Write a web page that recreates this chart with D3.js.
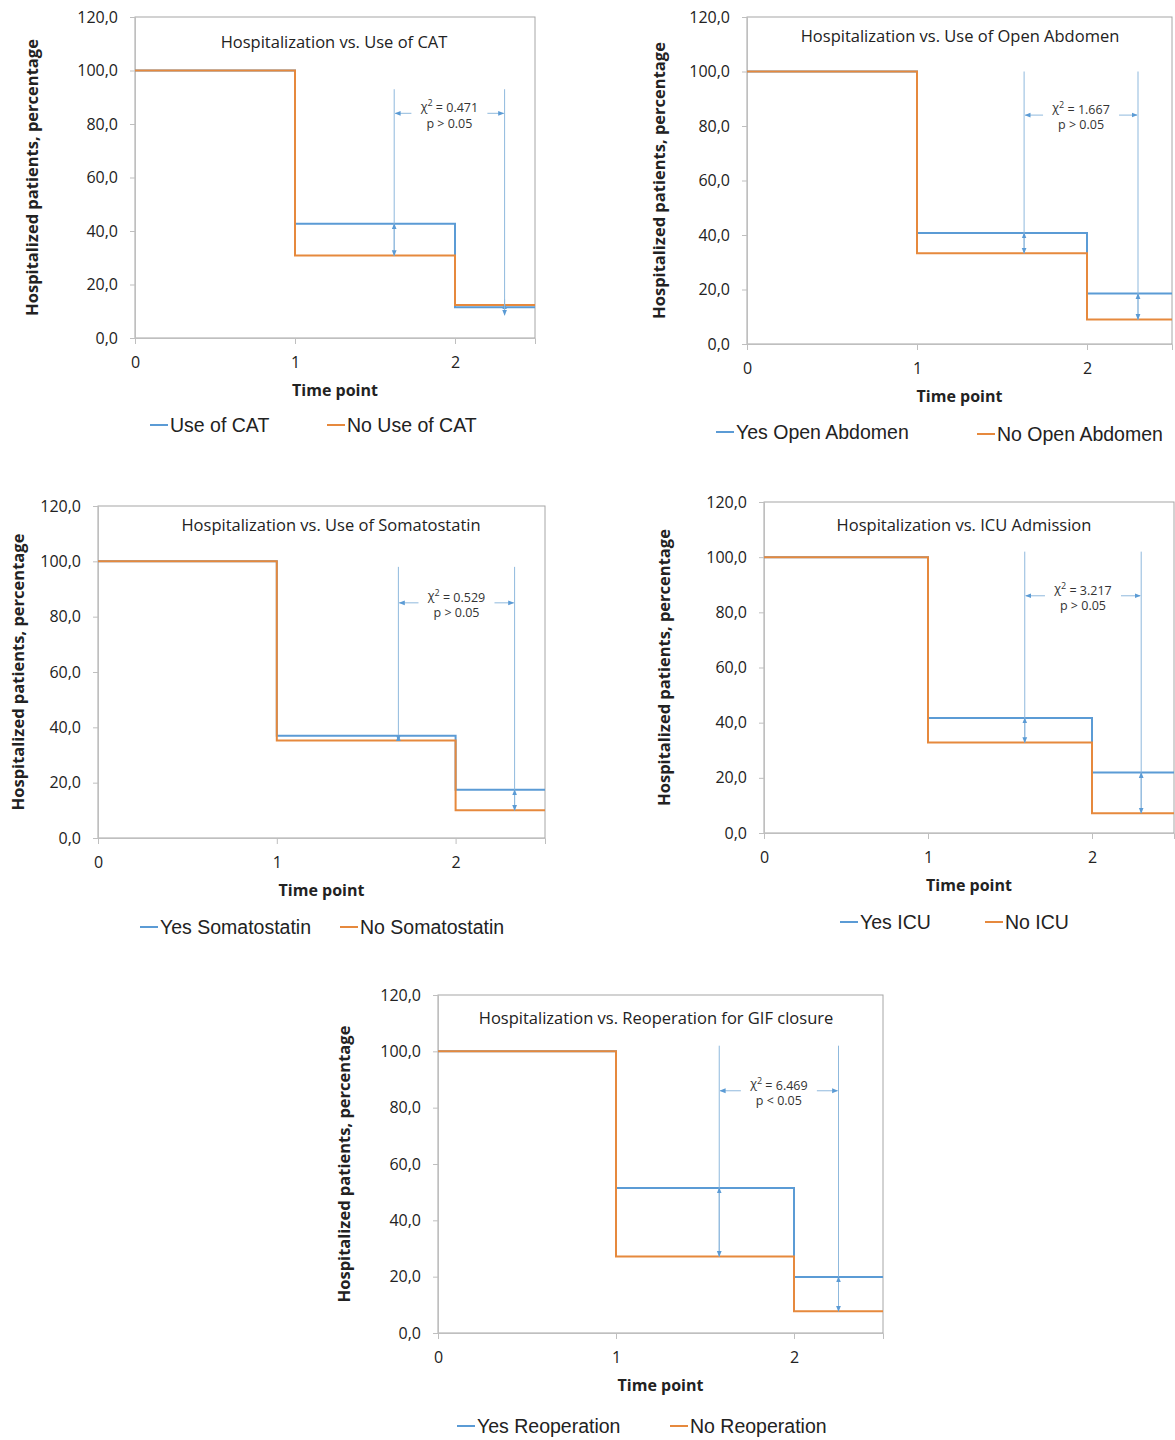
<!DOCTYPE html>
<html><head><meta charset="utf-8">
<script src="https://cdn.jsdelivr.net/npm/d3@7"></script>
<style>body{margin:0;background:#fff}</style></head>
<body><svg id="c" width="1175" height="1440"></svg>
<script>
const timePoints = [0, 1, 2, 2.5];
const yTicks = [0, 20, 40, 60, 80, 100, 120];
const xTicks = [0, 1, 2];
const titles = ["Hospitalization vs. Use of CAT","Hospitalization vs. Use of Open Abdomen","Hospitalization vs. Use of Somatostatin","Hospitalization vs. ICU Admission","Hospitalization vs. Reoperation for GIF closure"];
const yesNames = ["Use of CAT","Yes Open Abdomen","Yes Somatostatin","Yes ICU","Yes Reoperation"];
const noNames = ["No Use of CAT","No Open Abdomen","No Somatostatin","No ICU","No Reoperation"];
const yesValues = [[100,42.7,11.5],[100,40.7,18.5],[100,37.0,17.4],[100,41.7,21.9],[100,51.5,19.9]];
const noValues = [[100,30.8,12.3],[100,33.3,9.0],[100,35.2,10.0],[100,32.8,7.2],[100,27.2,7.7]];
const chiValues = ["0.471","1.667","0.529","3.217","6.469"];
const pTexts = ["p > 0.05","p > 0.05","p > 0.05","p > 0.05","p < 0.05"];
const markerX = [[1.62,2.31],[1.63,2.30],[1.68,2.33],[1.59,2.30],[1.58,2.25]];
const markerTop = [93,100,98,102,102];
const labelY = [84,84,85,86,86];

const boxes = [
 {l:135,r:535,t:17,b:338,tx:334,ty:42,ylab:32,leg:[[150,425],[327,425]]},
 {l:747,r:1172,t:17,b:344,tx:960,ty:36,ylab:659,leg:[[716,432],[977,434]]},
 {l:98,r:545,t:506,b:838,tx:331,ty:525,ylab:18,leg:[[140,927],[340,927]]},
 {l:764,r:1174,t:502,b:833,tx:964,ty:525,ylab:664,leg:[[840,922],[985,922]]},
 {l:438,r:883,t:995,b:1333,tx:656,ty:1018,ylab:344,leg:[[457,1426],[670,1426]]}
];
const BLUE="#5b9bd5", ORANGE="#e6893d", ANN="#8fb9dd";
const svg=d3.select("#c");
const defs=svg.append("defs");
defs.append("marker").attr("id","ah").attr("viewBox","0 0 10 10").attr("refX",9).attr("refY",5)
 .attr("markerWidth",6).attr("markerHeight",6).attr("orient","auto-start-reverse")
 .append("path").attr("d","M0,1L10,5L0,9z").attr("fill","#5b9bd5");
const F="'Open Sans', Lato, sans-serif";
boxes.forEach((b,i)=>{
  const x=d3.scaleLinear().domain([0,2.5]).range([b.l,b.r]);
  const y=d3.scaleLinear().domain([0,120]).range([b.b,b.t]);
  const g=svg.append("g");
  g.append("rect").attr("x",b.l).attr("y",b.t).attr("width",b.r-b.l).attr("height",b.b-b.t)
    .attr("fill","none").attr("stroke","#a6a6a6").attr("stroke-width",1);
  const ya=g.append("g").attr("transform",`translate(${b.l},0)`)
    .call(d3.axisLeft(y).tickValues(yTicks).tickSize(5).tickFormat(d=>d3.format(".1f")(d).replace(".",",")));
  ya.select(".domain").attr("stroke","#bfbfbf");
  ya.selectAll("line").attr("stroke","#bfbfbf");
  ya.selectAll("text").attr("font-family",F).attr("font-size",16).attr("fill","#222").attr("x",-17);
  const xa=g.append("g").attr("transform",`translate(0,${b.b})`)
    .call(d3.axisBottom(x).tickValues(xTicks).tickSize(6).tickFormat(d3.format("d")));
  xa.select(".domain").attr("stroke","#bfbfbf");
  xa.selectAll("line").attr("stroke","#bfbfbf");
  xa.selectAll("text").attr("font-family",F).attr("font-size",16).attr("fill","#222").attr("dy","1.3em");
  g.append("text").attr("x",(b.l+b.r)/2).attr("y",b.b+58).attr("text-anchor","middle")
    .attr("font-family",F).attr("font-weight","bold").attr("font-size",16).attr("fill","#222").text("Time point");
  g.append("text").attr("transform",`translate(${b.ylab},${(b.t+b.b)/2}) rotate(-90)`).attr("text-anchor","middle")
    .attr("dy","0.35em").attr("font-family",F).attr("font-weight","bold").attr("font-size",16.5).attr("fill","#222")
    .text("Hospitalized patients, percentage");
  g.append("text").attr("x",b.tx).attr("y",b.ty).attr("text-anchor","middle").attr("dy","0.35em")
    .attr("font-family",F).attr("font-size",16.5).attr("fill","#222").text(titles[i]);
  const step=d3.line().x(d=>x(d[0])).y(d=>y(d[1])).curve(d3.curveStepAfter);
  const mk=v=>[[0,v[0]],[1,v[1]],[2,v[2]],[2.5,v[2]]];
  g.append("path").attr("d",step(mk(yesValues[i]))).attr("fill","none").attr("stroke",BLUE).attr("stroke-width",2);
  g.append("path").attr("d",step(mk(noValues[i]))).attr("fill","none").attr("stroke",ORANGE).attr("stroke-width",2);
  markerX[i].forEach((mx,k)=>{
    const a=yesValues[i][k+1], c=noValues[i][k+1];
    const lo=Math.min(a,c), hi=Math.max(a,c);
    g.append("line").attr("x1",x(mx)).attr("x2",x(mx)).attr("y1",y(markerTop[i])).attr("y2",y(lo))
      .attr("stroke",ANN).attr("stroke-width",1);
    if(hi-lo>1.5) g.append("line").attr("x1",x(mx)).attr("x2",x(mx)).attr("y1",y(hi)).attr("y2",y(lo))
      .attr("stroke",ANN).attr("marker-start","url(#ah)").attr("marker-end","url(#ah)");
    else { g.append("line").attr("x1",x(mx)).attr("x2",x(mx)).attr("y1",y(hi)+8).attr("y2",y(hi)-1).attr("stroke",ANN).attr("marker-end","url(#ah)");
           g.append("line").attr("x1",x(mx)).attr("x2",x(mx)).attr("y1",y(lo)-8).attr("y2",y(lo)+8).attr("stroke",ANN).attr("marker-end","url(#ah)"); }
  });
  const x1=x(markerX[i][0]), x2=x(markerX[i][1]), cx=(x1+x2)/2, ly=y(labelY[i]);
  const t=g.append("text").attr("x",cx).attr("y",ly-7).attr("text-anchor","middle").attr("dy","0.35em")
    .attr("font-family",F).attr("font-size",12.5).attr("fill","#333");
  t.append("tspan").text("χ");
  t.append("tspan").attr("font-size",9).attr("dy","-0.5em").text("2");
  t.append("tspan").attr("dy","0.5em").text(" = "+chiValues[i]);
  g.append("text").attr("x",cx).attr("y",ly+10).attr("text-anchor","middle").attr("dy","0.35em")
    .attr("font-family",F).attr("font-size",12.5).attr("fill","#333").text(pTexts[i]);
  const hw=38;
  g.append("line").attr("x1",cx-hw).attr("x2",x1+1).attr("y1",ly).attr("y2",ly).attr("stroke",ANN).attr("marker-end","url(#ah)");
  g.append("line").attr("x1",cx+hw).attr("x2",x2-1).attr("y1",ly).attr("y2",ly).attr("stroke",ANN).attr("marker-end","url(#ah)");
  [[yesNames[i],BLUE],[noNames[i],ORANGE]].forEach(([n,col],k)=>{
    const [lx,lyy]=b.leg[k];
    g.append("line").attr("x1",lx).attr("x2",lx+18).attr("y1",lyy).attr("y2",lyy).attr("stroke",col).attr("stroke-width",2);
    g.append("text").attr("x",lx+20).attr("y",lyy).attr("dy","0.35em").attr("font-family","'Liberation Sans', Arial, sans-serif")
      .attr("font-size",19.5).attr("fill","#222").text(n);
  });
});
</script></body></html>
